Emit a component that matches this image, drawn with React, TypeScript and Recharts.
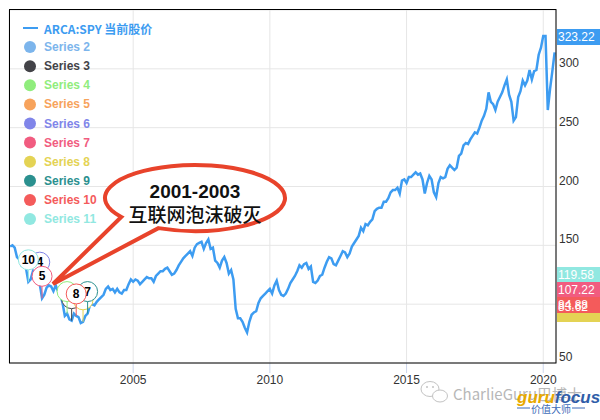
import React from "react";
import { ComposedChart, Line, Scatter, XAxis, YAxis, CartesianGrid } from "recharts";

// SPY monthly price, Jul 2000 .. Jun 2020 (index 0 = Jul 2000)
const spyPrice = [
  149, 150, 148, 140, 138, 133,
  135, 130, 119, 121, 128, 125, 121, 117, 105, 108, 114, 116,
  115, 111, 116, 111, 108, 101, 90, 92, 87, 86, 92, 90,
  89, 84, 85, 90, 92, 99, 100, 99, 102, 104, 106, 108,
  113, 115, 112, 113, 110, 113, 110, 109, 112, 112, 117, 121,
  119, 121, 120, 117, 119, 121, 123, 122, 122, 119, 124, 126,
  128, 128, 130, 131, 128, 125, 126, 129, 133, 136, 139, 141,
  143, 145, 141, 148, 151, 152, 153, 147, 152, 155, 147, 148,
  137, 135, 131, 137, 140, 135, 126, 129, 121, 96, 88, 88,
  85, 80, 76, 85, 91, 93, 94, 101, 105, 107, 109, 111,
  113, 109, 116, 120, 112, 108, 107, 109, 113, 118, 121, 124,
  128, 133, 131, 134, 135, 130, 132, 119, 118, 120, 124, 125,
  131, 136, 140, 139, 134, 133, 137, 141, 145, 144, 140, 143,
  149, 152, 155, 158, 165, 162, 168, 167, 170, 172, 179, 181,
  182, 182, 187, 187, 190, 195, 197, 197, 199, 194, 205, 206,
  203, 208, 208, 210, 212, 210, 211, 206, 194, 203, 209, 206,
  195, 191, 203, 208, 207, 208, 215, 218, 216, 214, 216, 226,
  228, 235, 237, 236, 240, 243, 246, 245, 250, 256, 260, 266,
  280, 272, 270, 265, 272, 276, 280, 286, 291, 278, 272, 256,
  259, 276, 281, 290, 286, 290, 299, 291, 298, 299, 312, 318,
  328, 328, 265, 283, 298, 314,
];

const xTicks = [54, 114, 174, 234];
const yTicks = [50, 100, 150, 200, 250, 300];

const seriesNames = [
  "ARCA:SPY 当前股价", "Series 2", "Series 3", "Series 4", "Series 5", "Series 6",
  "Series 7", "Series 8", "Series 9", "Series 10", "Series 11",
];
const seriesColors = [
  "#3d9cf1", "#7cb5ec", "#434348", "#90ed7d", "#f7a35c", "#8085e9",
  "#f15c80", "#e4d354", "#2b908f", "#f45b5b", "#91e8e1",
];

// flags: month index on the line, label (hidden ones have none), series number
const flagIndex = [27, 25, 13, 14, 32, 34, 29, 8];
const flagLabel = ["", "", "4", "5", "", "7", "8", "10"];
const flagSeries = [2, 3, 5, 6, 7, 8, 9, 10];

const priceTags = [
  { text: "323.22", color: "#3d9cf1", y: 29, h: 16, ty: 37 },
  { text: "119.58", color: "#91e8e1", y: 267, h: 16, ty: 275 },
  { text: "107.22", color: "#f15c80", y: 282, h: 15, ty: 290 },
  { text: "83.62", color: "#e4d354", y: 305, h: 17, ty: 307 },
  { text: "84.88", color: "#f45b5b", y: 297, h: 16, ty: 305 },
];

const FONT = '"Liberation Sans", Arial, sans-serif';
const CJK = '"Noto Sans CJK SC", "Liberation Sans", sans-serif';

const rows = spyPrice.map((v, i) => ({ i, v }));

const YTick = (props: any) => {
  const { y, payload } = props;
  return (
    <text x={559} y={y - 6} dominantBaseline="central" fontSize={12} fill="#333" fontFamily={FONT}>
      {payload.value}
    </text>
  );
};

const makeFlag = (label: string, color: string) => (props: any) => {
  const { cx, cy } = props;
  const top = cy - 22;
  return (
    <g>
      <line x1={cx} y1={top + 10} x2={cx} y2={cy} stroke={color} strokeWidth={1} />
      <circle cx={cx} cy={top} r={10} fill="#fff" stroke={color} strokeWidth={1} />
      <text x={cx} y={top} textAnchor="middle" dominantBaseline="central" fontSize={12}
        fontWeight="bold" fill="#000" fontFamily={FONT}>
        {label}
      </text>
    </g>
  );
};

// speech bubble outline
const bx = 195, by = 198, rx = 90, ry = 33;
const pt = (deg: number) => {
  const a = (deg * Math.PI) / 180;
  return [bx + rx * Math.cos(a), by + ry * Math.sin(a)];
};
const [ax, ay] = pt(145);
const [bx2, by2] = pt(114);
const bubblePath = `M${ax},${ay} A${rx},${ry} 0 1 1 ${bx2},${by2} L53,284 Z`;

export default function App() {
  return (
    <div style={{ position: "absolute", left: 0, top: 0, width: 600, height: 420, background: "#fff" }}>
      <ComposedChart width={600} height={420} data={rows} margin={{ top: 10, right: 0, bottom: 0, left: 9 }}>
        <CartesianGrid stroke="#e6e6e6" />
        <XAxis
          type="number"
          dataKey="i"
          domain={[-0.5, 239.6]}
          ticks={xTicks}
          allowDataOverflow
          tickFormatter={(i: number) => String(2000 + Math.floor((i + 6) / 12))}
          axisLine={false}
          tickSize={10}
          tickLine={{ stroke: "#ccd6eb" }}
          tick={{ fill: "#333", fontSize: 12, fontFamily: FONT }}
          height={57}
        />
        <YAxis
          orientation="right"
          domain={[50, 350]}
          ticks={yTicks}
          allowDataOverflow
          width={44}
          axisLine={false}
          tickLine={false}
          tick={<YTick />}
        />
        <Line
          dataKey="v"
          stroke={seriesColors[0]}
          strokeWidth={2.5}
          dot={false}
          isAnimationActive={false}
        />
        {flagIndex.map((idx, k) => (
          <Scatter
            key={k}
            data={[{ i: idx, v: spyPrice[idx] }]}
            dataKey="v"
            isAnimationActive={false}
            shape={makeFlag(flagLabel[k], seriesColors[flagSeries[k]])}
          />
        ))}
      </ComposedChart>

      <svg width={600} height={420} style={{ position: "absolute", left: 0, top: 0, pointerEvents: "none" }}>
        <rect x={9.5} y={9.5} width={546.5} height={353.5} fill="none" stroke="#000" strokeWidth={1} />

        {/* legend */}
        {seriesNames.map((name, k) => {
          const y = 28 + k * 19.1;
          return (
            <g key={name}>
              {k === 0 ? (
                <line x1={23} y1={y} x2={38} y2={y} stroke={seriesColors[0]} strokeWidth={2} />
              ) : (
                <circle cx={30} cy={y} r={6} fill={seriesColors[k]} />
              )}
              <text x={44} y={y} dominantBaseline="central" fontSize={12} fontWeight="bold"
                fill={seriesColors[k]} fontFamily={k === 0 ? CJK : FONT}>
                {name}
              </text>
            </g>
          );
        })}

        {/* callout */}
        <path d={bubblePath} fill="#fff" stroke="#e8432b" strokeWidth={4} strokeLinejoin="miter" />
        <text x={195} y={191} textAnchor="middle" dominantBaseline="central" fontSize={19}
          fontWeight="bold" fill="#111" fontFamily={FONT}>
          2001-2003
        </text>
        <text x={195} y={213} textAnchor="middle" dominantBaseline="central" fontSize={19}
          fontWeight={500} fill="#111" fontFamily={CJK}>
          互联网泡沫破灭
        </text>

        {/* price tags on the right axis */}
        {priceTags.map((t) => (
          <rect key={t.text} x={557} y={t.y} width={43} height={t.h} fill={t.color} />
        ))}
        {priceTags.map((t) => (
          <text key={t.text} x={558} y={t.ty} dominantBaseline="central" fontSize={12}
            fill="#fff" fontFamily={FONT}>
            {t.text}
          </text>
        ))}

        {/* watermark */}
        <g opacity={0.7}>
          <ellipse cx={430} cy={389} rx={9} ry={7.5} fill="none" stroke="#aaa" strokeWidth={1} />
          <ellipse cx={440} cy={396} rx={7.5} ry={6} fill="#fff" stroke="#aaa" strokeWidth={1} />
          <circle cx={427} cy={387} r={1} fill="#aaa" />
          <circle cx={433} cy={387} r={1} fill="#aaa" />
          <text x={453} y={393} dominantBaseline="central" fontSize={15} fill="#999" fontFamily={CJK}>
            CharlieGuru巴博士
          </text>
        </g>
        <text x={517} y={397} dominantBaseline="central" fontSize={17} fontStyle="italic"
          fontWeight="bold" fontFamily={FONT}>
          <tspan fill="#e8a900">guru</tspan>
          <tspan fill="#2f5da8">focus</tspan>
        </text>
        <line x1={517} y1={408} x2={530} y2={408} stroke="#3d6bb8" strokeWidth={1} />
        <line x1={572} y1={408} x2={585} y2={408} stroke="#3d6bb8" strokeWidth={1} />
        <text x={551} y={408} textAnchor="middle" dominantBaseline="central" fontSize={10}
          fill="#3d6bb8" fontFamily={CJK}>
          价值大师
        </text>
      </svg>
    </div>
  );
}
